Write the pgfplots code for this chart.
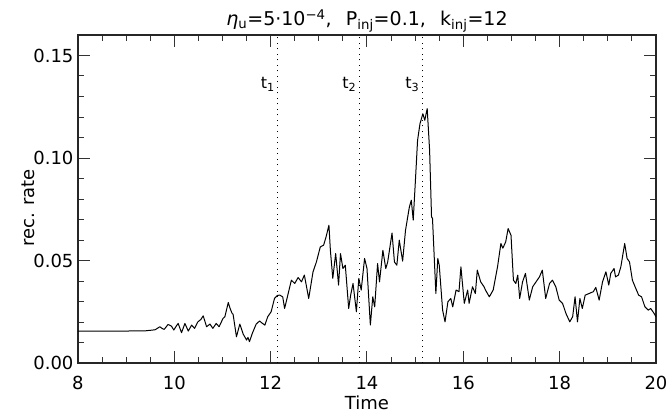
\documentclass[border=0pt]{standalone}
\usepackage{fontspec}
\setmainfont{DejaVu Sans}
\usepackage{pgfplots}
\pgfplotsset{compat=1.18}
\newcommand{\lblfont}{\fontsize{18}{21}\selectfont}
\begin{document}
\begin{tikzpicture}[x=1pt,y=1pt]
\begin{axis}[
  name=ax,
  scale only axis,
  width=578pt, height=328pt,
  xmin=8, xmax=20, ymin=0, ymax=0.16,
  xtick={8,10,...,20}, minor x tick num=3,
  ytick={0,0.05,0.10,0.15}, minor y tick num=4,
  tick align=inside,
  major tick length=12pt, minor tick length=6pt,
  axis line style={line width=1.6pt, black!85},
  every tick/.style={line width=1pt, black!80},
  /pgf/number format/assume math mode=true,
  yticklabel style={/pgf/number format/fixed, /pgf/number format/precision=2, /pgf/number format/fixed zerofill},
  scaled y ticks=false,
  tick label style={font=\lblfont},
  xticklabel style={yshift=-10pt},
  yticklabel style={xshift=-1pt},
  xlabel={Time}, ylabel={rec. rate},
  label style={font=\lblfont},
  xlabel style={yshift=1pt},
  ylabel style={yshift=-8pt, xshift=-9pt},
  title={\textit{η}\textsubscript{u}=5·10\textsuperscript{−4},\hspace{0.75em}P\textsubscript{inj}=0.1,\hspace{0.75em}k\textsubscript{inj}=12},
  title style={font=\fontsize{19}{22}\selectfont, yshift=-7pt},
  clip=false,
]
\addplot[black, line width=1pt, dash pattern=on 1pt off 4.5pt] coordinates {(12.15,0) (12.15,0.16)};
\addplot[black, line width=1pt, dash pattern=on 1pt off 4.5pt] coordinates {(13.84,0) (13.84,0.16)};
\addplot[black, line width=1pt, dash pattern=on 1pt off 4.5pt] coordinates {(15.15,0) (15.15,0.16)};
\node[anchor=east, font=\fontsize{16}{18}\selectfont, inner sep=1pt] at (axis cs:12.11,0.136) {t\textsubscript{1}};
\node[anchor=east, font=\fontsize{16}{18}\selectfont, inner sep=1pt] at (axis cs:13.80,0.136) {t\textsubscript{2}};
\node[anchor=east, font=\fontsize{16}{18}\selectfont, inner sep=1pt] at (axis cs:15.11,0.136) {t\textsubscript{3}};
\addplot[black, line width=1pt, line join=round] table {
8.00 0.0155
9.00 0.0156
9.40 0.0157
9.60 0.0162
9.70 0.0177
9.75 0.0168
9.79 0.0164
9.87 0.0188
9.94 0.0180
9.99 0.0161
10.04 0.0180
10.08 0.0193
10.15 0.0148
10.22 0.0193
10.29 0.0156
10.36 0.0185
10.42 0.0169
10.49 0.0201
10.55 0.0212
10.60 0.0230
10.67 0.0177
10.74 0.0190
10.80 0.0169
10.87 0.0193
10.93 0.0177
11.01 0.0217
11.05 0.0226
11.12 0.0295
11.16 0.0265
11.20 0.0242
11.22 0.0238
11.29 0.0128
11.36 0.0190
11.43 0.0141
11.50 0.0112
11.53 0.0125
11.56 0.0104
11.62 0.0145
11.70 0.0190
11.77 0.0205
11.82 0.0195
11.88 0.0185
11.94 0.0226
12.01 0.0250
12.08 0.0315
12.14 0.0330
12.19 0.0331
12.25 0.0323
12.29 0.0266
12.36 0.0335
12.43 0.0404
12.50 0.0388
12.57 0.0417
12.64 0.0396
12.70 0.0429
12.79 0.0315
12.88 0.0445
12.95 0.0493
13.03 0.0566
13.10 0.0575
13.15 0.0615
13.21 0.0672
13.24 0.0550
13.29 0.0413
13.35 0.0534
13.41 0.0380
13.45 0.0534
13.50 0.0461
13.55 0.0477
13.62 0.0266
13.66 0.0330
13.71 0.0388
13.78 0.0250
13.83 0.0413
13.88 0.0356
13.95 0.0510
14.00 0.0461
14.07 0.0185
14.12 0.0323
14.16 0.0274
14.22 0.0485
14.26 0.0396
14.33 0.0550
14.39 0.0461
14.43 0.0493
14.52 0.0634
14.57 0.0493
14.62 0.0477
14.67 0.0599
14.74 0.0497
14.80 0.0648
14.88 0.0761
14.92 0.0794
14.96 0.0697
15.01 0.0910
15.05 0.1086
15.10 0.1167
15.16 0.1216
15.20 0.1184
15.25 0.1241
15.30 0.1038
15.34 0.0713
15.36 0.0705
15.43 0.0339
15.47 0.0510
15.50 0.0477
15.57 0.0258
15.62 0.0201
15.68 0.0299
15.74 0.0315
15.78 0.0274
15.85 0.0356
15.91 0.0348
15.95 0.0469
16.02 0.0291
16.09 0.0356
16.12 0.0291
16.19 0.0372
16.25 0.0339
16.29 0.0453
16.36 0.0396
16.43 0.0372
16.46 0.0356
16.54 0.0323
16.62 0.0356
16.71 0.0469
16.78 0.0583
16.82 0.0560
16.88 0.0591
16.93 0.0656
16.99 0.0623
17.04 0.0404
17.09 0.0388
17.13 0.0429
17.17 0.0315
17.23 0.0396
17.29 0.0437
17.37 0.0307
17.44 0.0372
17.51 0.0396
17.58 0.0420
17.64 0.0453
17.71 0.0315
17.79 0.0388
17.85 0.0404
17.92 0.0372
17.99 0.0307
18.06 0.0291
18.13 0.0242
18.21 0.0201
18.27 0.0226
18.32 0.0323
18.37 0.0201
18.42 0.0315
18.47 0.0266
18.53 0.0331
18.61 0.0339
18.70 0.0348
18.75 0.0369
18.82 0.0307
18.89 0.0396
18.96 0.0445
19.02 0.0380
19.06 0.0437
19.13 0.0461
19.16 0.0420
19.22 0.0429
19.27 0.0469
19.35 0.0583
19.40 0.0510
19.45 0.0493
19.51 0.0404
19.58 0.0364
19.64 0.0331
19.70 0.0323
19.77 0.0274
19.84 0.0258
19.89 0.0266
19.96 0.0242
20.00 0.0226
};
\coordinate (bbl) at (rel axis cs:-0.1349,-0.1616);
\coordinate (btr) at (rel axis cs:1.0173,1.1067);
\end{axis}
\pgfresetboundingbox
\path[use as bounding box] (bbl) rectangle (btr);
\end{tikzpicture}
\end{document}
